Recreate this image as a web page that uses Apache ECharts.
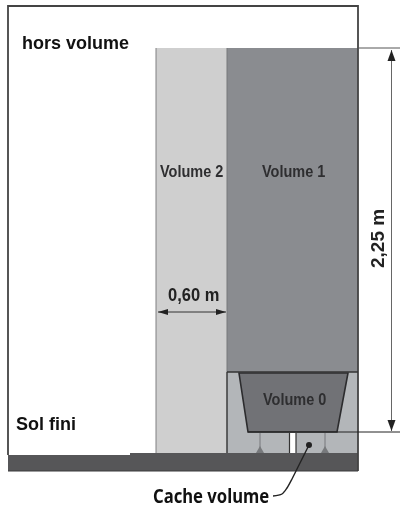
<!DOCTYPE html>
<html><head><meta charset="utf-8">
<style>html,body{margin:0;padding:0;background:#fff}#c{width:400px;height:506px}</style>
<script src="https://cdn.jsdelivr.net/npm/echarts@6/dist/echarts.min.js"></script>
</head><body><div id="c"></div>
<script>
// Diagram geometry, in drawing units along the hidden x and y axes
const volume2 = [[156,48],[227,48],[227,453],[156,453]];
const volume1 = [[227,48],[358,48],[358,372],[227,372]];
const cacheVolume = [[227,372],[358,372],[358,453],[227,453]];
const volume0 = [[239,373],[348,373],[337,432],[248,432]];
const floorSlab = [[8,455],[130,455],[130,453],[358,453],[358,471],[8,471]];
const gap = [[290,433],[296,433],[296,453],[290,453]];
const footTriangles = [
  [[260,446],[264,453],[256,453]],
  [[325,446],[329,453],[321,453]]
];
const arrowHeads = [
  [[391.5,50],[395.5,61],[387.5,61]],
  [[391.5,431],[395.5,420],[387.5,420]],
  [[158,312],[168,309],[168,315]],
  [[226,312],[216,309],[216,315]]
];
const frameLine = [[8,455],[8,6],[358,6],[358,471]];
const slabOutline = [[8,471],[358,471]];
const volume2Edge = [[156,48],[156,453]];
const volume1Edge = [[227,48],[227,372]];
const cacheTop = [[227,372],[358,372]];
const cacheLeft = [[227,372],[227,453]];
const dimTop = [[358,48],[400,48]];
const dimBottom = [[248,432],[400,432]];
const dimVertical = [[391.5,50],[391.5,431]];
const dimWidth = [[158,312],[226,312]];
const footLines = [[[260,433],[260,448]],[[325,433],[325,448]]];
const gapEdges = [[[289.5,433],[289.5,453]],[[296,433],[296,453]]];
const leaderTail = [[309,445],[300,463],[292,479],[287,488],[282,494],[273,496]];
const leaderDot = [[309,445]];
const labels = [
  {t:'hors volume', p:[22,44], s:18, f:'Liberation Sans', c:'#111', sy:1.06},
  {t:'Sol fini', p:[16,425], s:18, f:'Liberation Sans', c:'#111', sy:1.06},
  {t:'Cache volume', p:[153,497], s:18.5, f:'Noto Sans', c:'#111', sx:0.9, sy:1.06},
  {t:'Volume 2', p:[160,172.5], s:14.5, f:'Liberation Sans', c:'#2e2e30', sy:1.08},
  {t:'Volume 1', p:[262,172.5], s:14.5, f:'Liberation Sans', c:'#2e2e30', sy:1.08},
  {t:'Volume 0', p:[263,400.5], s:14.5, f:'Liberation Sans', c:'#2e2e30', sy:1.08},
  {t:'0,60 m', p:[168,296.5], s:16.5, f:'Liberation Sans', c:'#222', sy:1.06},
  {t:'2,25 m', p:[378.5,268], s:19, f:'Liberation Sans', c:'#222', rot:90}
];

const fills = [
  {pts:volume2, c:'#cfcfcf'},
  {pts:volume1, c:'#8a8c90'},
  {pts:cacheVolume, c:'#b3b6b9'},
  {pts:volume0, c:'#717276', stroke:'#2c2c2e', sw:1.6},
  {pts:floorSlab, c:'#565658'},
  {pts:gap, c:'#ffffff'}
];
const heads = footTriangles.map(p=>({pts:p,c:'#77797c'})).concat(arrowHeads.map(p=>({pts:p,c:'#222'})));

const strokes = [
  {pts:frameLine, c:'#444', w:1.8},
  {pts:slabOutline, c:'#3a3a3c', w:1.2},
  {pts:volume2Edge, c:'#808082', w:1},
  {pts:volume1Edge, c:'#77787a', w:1},
  {pts:cacheTop, c:'#333', w:1.4},
  {pts:cacheLeft, c:'#333', w:1.4},
  {pts:dimTop, c:'#555', w:1},
  {pts:dimBottom, c:'#222', w:1},
  {pts:dimVertical, c:'#666', w:1},
  {pts:dimWidth, c:'#333', w:1},
  {pts:leaderTail, c:'#222', w:1.4, smooth:0.3}
].concat(
  footLines.map(p=>({pts:p,c:'#808285',w:1.2})),
  gapEdges.map(p=>({pts:p,c:'#333',w:1.2}))
);

const chart = echarts.init(document.getElementById('c'), null, {renderer:'canvas'});

function polySeries(list, z){
  return {
    type:'custom', coordinateSystem:'cartesian2d', z, silent:true, clip:false,
    data:list.map((_,i)=>[i]),
    renderItem:(params,api)=>{
      const it = list[api.value(0)];
      const pts = it.pts.map(p=>api.coord(p));
      if(it.w){
        return {type:'polyline', shape:{points:pts, smooth:it.smooth||0},
          style:{fill:null, stroke:it.c, lineWidth:it.w}};
      }
      return {type:'polygon', shape:{points:pts},
        style:{fill:it.c, stroke:it.stroke||null, lineWidth:it.sw||0}};
    }
  };
}

chart.setOption({
  animation:false,
  backgroundColor:'#ffffff',
  grid:{left:0,right:0,top:0,bottom:0},
  xAxis:{type:'value',min:0,max:400,show:false},
  yAxis:{type:'value',min:0,max:506,inverse:true,show:false},
  series:[
    polySeries(fills,1),
    polySeries(strokes,2),
    polySeries(heads,3),
    {type:'scatter',z:4,silent:true,symbolSize:6,itemStyle:{color:'#222',opacity:1},data:leaderDot},
    {type:'custom',coordinateSystem:'cartesian2d',z:5,silent:true,clip:false,
      data:labels.map((_,i)=>[i]),
      renderItem:(params,api)=>{
        const l = labels[api.value(0)];
        const c = api.coord(l.p);
        return {type:'text', x:c[0], y:c[1],
          rotation:(l.rot||0)*Math.PI/180, scaleX:l.sx||1, scaleY:l.sy||1,
          style:{text:l.t, x:0, y:0, align:'left', verticalAlign:'middle',
            font:'bold '+l.s+'px "'+l.f+'"', fill:l.c}};
      }
    }
  ]
});
</script></body></html>
